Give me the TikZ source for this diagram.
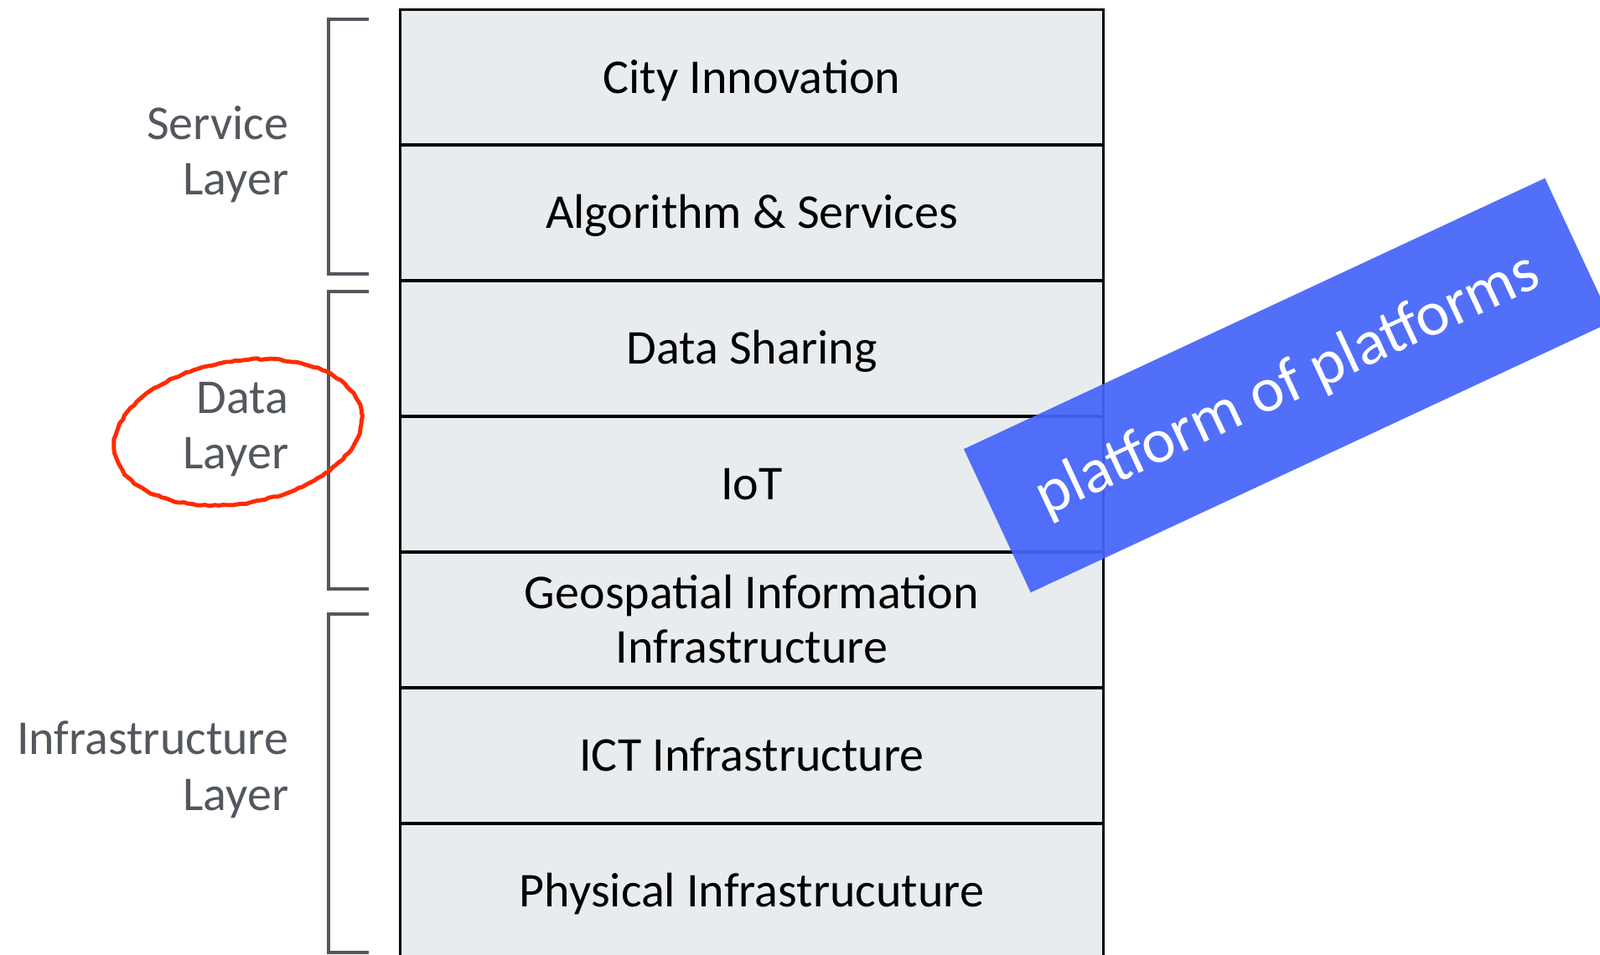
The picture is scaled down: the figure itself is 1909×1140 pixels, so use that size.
\documentclass[tikz,border=0pt]{standalone}
\usepackage{fontspec}
\setmainfont{Carlito}
\usetikzlibrary{decorations.pathmorphing}
\definecolor{boxfill}{HTML}{E9ECEF}
\definecolor{lblgray}{HTML}{53575E}
\definecolor{circred}{HTML}{FF2A00}
\definecolor{bannerblue}{HTML}{4565FA}
\newcommand{\boxfont}{\fontsize{16.5pt}{20pt}\selectfont}
\newcommand{\bannerfont}{\fontsize{21.5pt}{24pt}\selectfont}
\begin{document}
\begin{tikzpicture}[x=0.01cm,y=-0.01cm,
  rowbox/.style={draw=black, line width=0.9pt, fill=boxfill, minimum width=8.38cm,
    minimum height=1.618cm, inner sep=0pt, font=\boxfont, text height=10.63pt, text depth=0pt},
  boxtext/.style={font=\boxfont, inner sep=0pt, anchor=base},
  lbl/.style={font=\boxfont, text=lblgray, inner sep=0pt, anchor=base east},
  bracketline/.style={draw=lblgray, line width=1.4pt},
  redcirc/.style={draw=circred, line width=1.4pt, line join=round,
    decorate, decoration={random steps, segment length=1.5pt, amplitude=0.25pt}},
  banner/.style={fill=bannerblue, fill opacity=0.93, rotate=25, minimum width=7.646cm,
    minimum height=1.888cm, inner sep=0pt},
  bannertext/.style={font=\bannerfont, rotate=25, inner sep=0pt, text=white}]
\useasboundingbox (0,0) rectangle (1909,1140);
\fill[white] (0,0) rectangle (1909,1140);

% stacked layers
\node[rowbox] (r1) at (897,92.5) {City Innovation};
\node[rowbox] (r2) at (897,254) {Algorithm \& Services};
\node[rowbox] (r3) at (897,416) {Data Sharing};
\node[rowbox] (r4) at (897,578) {IoT};
\node[rowbox] (r5) at (897,740) {};
\node[boxtext] (r5a) at (897,726) {Geospatial Information};
\node[boxtext] (r5b) at (897,791) {Infrastructure};
\node[rowbox] (r6) at (897,902) {ICT Infrastructure};
\node[rowbox] (r7) at (897,1064) {Physical Infrastrucuture};

% brackets
\draw[bracketline] (440,23) -- (392,23) -- (392,327) -- (440,327);
\draw[bracketline] (440,348) -- (392,348) -- (392,703) -- (440,703);
\draw[bracketline] (440,733) -- (392,733) -- (392,1137) -- (440,1137);

% layer labels
\node[lbl] (s1) at (345,167) {Service};
\node[lbl] (s2) at (345,233) {Layer};
\node[lbl] (d1) at (345,493) {Data};
\node[lbl] (d2) at (345,560) {Layer};
\node[lbl] (i1) at (345,900) {Infrastructure};
\node[lbl] (i2) at (345,967) {Layer};

% red circle
\draw[redcirc, rotate around={9.5:(284,516)}] (284,516) ellipse [x radius=149, y radius=85];

% banner
\node[banner] (plat) at (1536.5,460) {};
\node[bannertext] (plattxt) at (plat.center) {platform of platforms};
\end{tikzpicture}
\end{document}
